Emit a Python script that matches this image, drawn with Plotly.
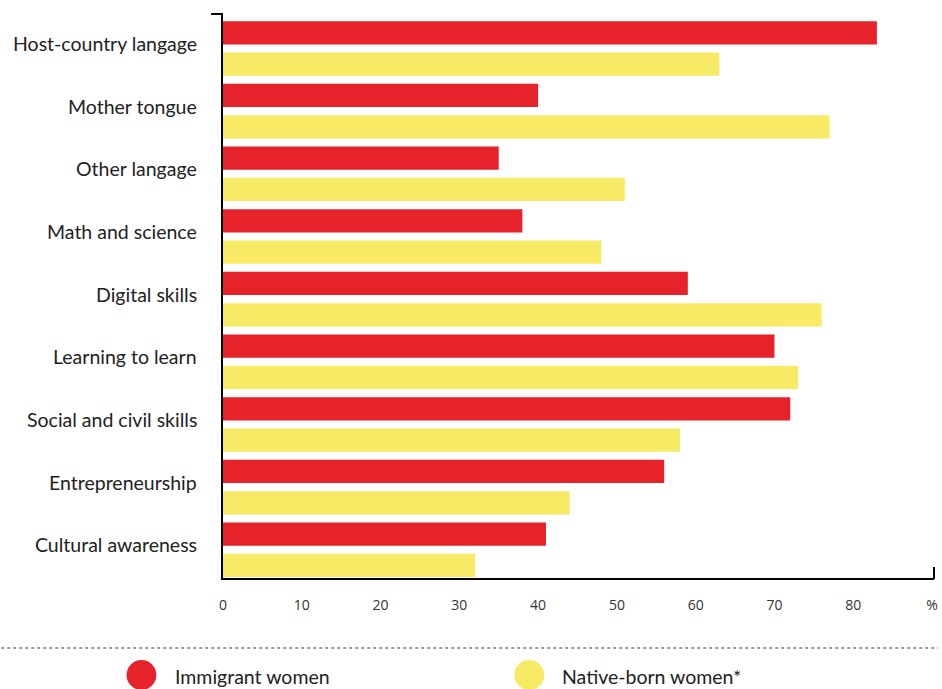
import plotly.graph_objects as go

categories = ["Host-country langage", "Mother tongue", "Other langage", "Math and science",
              "Digital skills", "Learning to learn", "Social and civil skills",
              "Entrepreneurship", "Cultural awareness"]
immigrant = [83, 40, 35, 38, 59, 70, 72, 56, 41]
native = [63, 77, 51, 48, 76, 73, 58, 44, 32]
series_names = ["Immigrant women", "Native-born women*"]
series_colors = ["#E6232A", "#F7EB66"]
tick_vals = [0, 10, 20, 30, 40, 50, 60, 70, 80, 90]
tick_text = ["0", "10", "20", "30", "40", "50", "60", "70", "80", "%"]

W, H = 942, 689
L, R, T, B = 223, 938, 14, 578

def px(x):
    return (x - L) / (R - L)

def py(y):
    return (B - y) / (B - T)

fig = go.Figure()
for name, vals, col in zip(series_names, [immigrant, native], series_colors):
    fig.add_trace(go.Bar(y=categories, x=vals, orientation="h", name=name,
                         marker=dict(color=col, line=dict(width=0)), showlegend=False))

fig.update_layout(
    width=W, height=H,
    margin=dict(l=L, r=W - R, t=T, b=H - B, pad=0),
    paper_bgcolor="white", plot_bgcolor="white",
    barmode="group", bargap=0.0, bargroupgap=0.26,
    font=dict(family="Lato, Open Sans, sans-serif", color="#222"),
    xaxis=dict(range=[0, 90.25], tickvals=tick_vals, ticktext=tick_text,
               showgrid=False, zeroline=False, showline=True, linecolor="black",
               linewidth=2, ticks="", ticklabelstandoff=13, ticklabeloverflow="allow",
               tickfont=dict(size=14, color="#333", family="Open Sans, sans-serif")),
    yaxis=dict(categoryorder="array", categoryarray=categories,
               range=[8.45, -0.55], showgrid=False, zeroline=False, showline=True,
               linecolor="black", linewidth=2, ticks="", showticklabels=False),
)

shapes = [
    dict(type="line", xref="paper", yref="paper", x0=px(211), x1=px(223), y0=1, y1=1,
         line=dict(color="black", width=2)),
    dict(type="line", xref="paper", yref="paper", x0=1, x1=1, y0=py(579), y1=py(567),
         line=dict(color="black", width=2)),
    dict(type="line", xref="paper", yref="paper", x0=px(0), x1=px(942), y0=py(648), y1=py(648),
         line=dict(color="#333", width=1, dash="dot")),
]
annotations = []
for cat in categories:
    annotations.append(dict(xref="paper", yref="y", x=0, y=cat, text=cat, showarrow=False,
                            xanchor="right", yanchor="middle", xshift=-24, yshift=5,
                            font=dict(size=19.5, color="#222", family="Lato, sans-serif")))
for name, col, cx, tx in zip(series_names, series_colors, [141, 531], [173, 562]):
    shapes.append(dict(type="circle", xref="paper", yref="paper",
                       x0=px(cx - 15), x1=px(cx + 15), y0=py(660), y1=py(690),
                       fillcolor=col, line=dict(width=0)))
    annotations.append(dict(xref="paper", yref="paper", x=px(tx), y=py(676), text=name,
                            showarrow=False, xanchor="left", yanchor="middle",
                            font=dict(size=19.5, color="#222", family="Lato, sans-serif")))
fig.update_layout(shapes=shapes, annotations=annotations)

fig.write_html("out.html")
